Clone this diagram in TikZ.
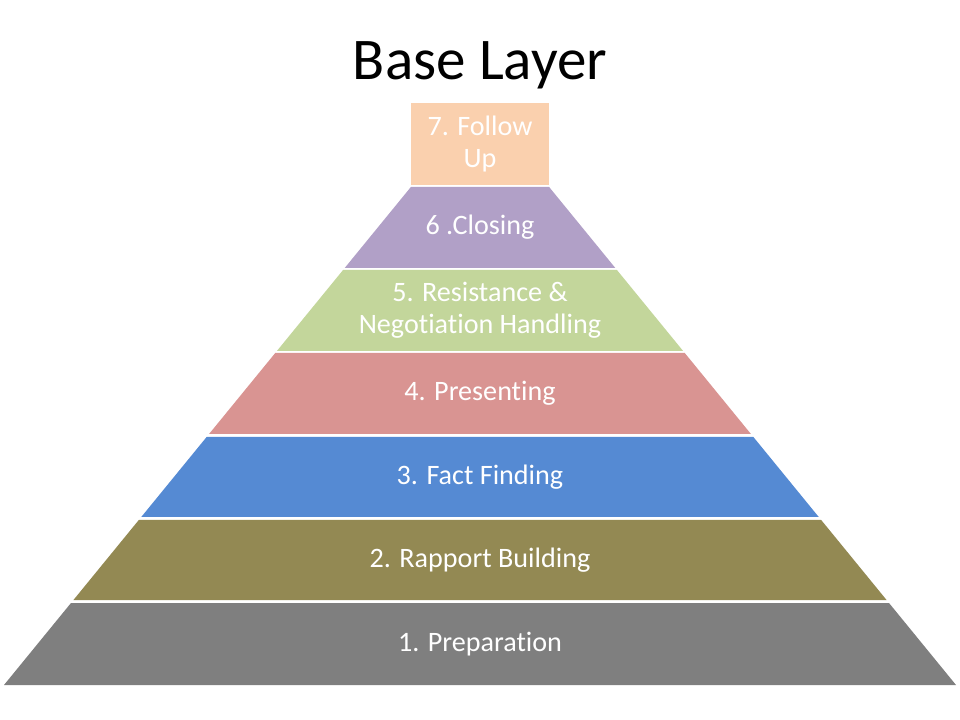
\documentclass[tikz,border=0pt]{standalone}
\usepackage{fontspec}
\setmainfont[Ligatures=NoCommon, RawFeature={-liga;-clig}]{Carlito}
\definecolor{prepgray}{HTML}{7F7F7F}
\definecolor{rapportolive}{HTML}{938953}
\definecolor{factblue}{HTML}{558AD3}
\definecolor{presentred}{HTML}{D99492}
\definecolor{resistgreen}{HTML}{C3D69B}
\definecolor{closingpurple}{HTML}{B1A0C7}
\definecolor{followpeach}{HTML}{FAD0AE}

\begin{document}
\begin{tikzpicture}[x=0.025cm, y=-0.025cm,
    label text/.style={text=white, font=\fontsize{20}{23}\selectfont, align=center}]
        \useasboundingbox (0,0) rectangle (960,720);
        \node[font=\fontsize{42}{50}\selectfont, anchor=base] (title) at (480,80) {Base Layer};

        \foreach \yt/\yb/\col/\nm/\txt in {603/685/prepgray/prep/{1. Preparation},
            520/600/rapportolive/rapport/{2. Rapport Building},
            437/517/factblue/fact/{3. Fact Finding},
            353/434/presentred/present/{4. Presenting},
            270/351/resistgreen/resist/{5. Resistance \&\\Negotiation Handling},
            187/268/closingpurple/closing/{6 .Closing}} {
            \pgfmathsetmacro\xt{4+(685-\yt)*0.817}
            \pgfmathsetmacro\xb{4+(685-\yb)*0.817}
            \fill[\col] (\xb,\yb) -- (\xt,\yt) -- (960-\xt,\yt) -- (960-\xb,\yb) -- cycle;
            \node[label text] (\nm) at (480,{(\yt+\yb)/2}) {\txt};
        }

        \fill[followpeach] (411,103) rectangle (549,185);
        \node[label text] (follow) at (480,144) {7. Follow\\Up};
    \end{tikzpicture}
\end{document}
